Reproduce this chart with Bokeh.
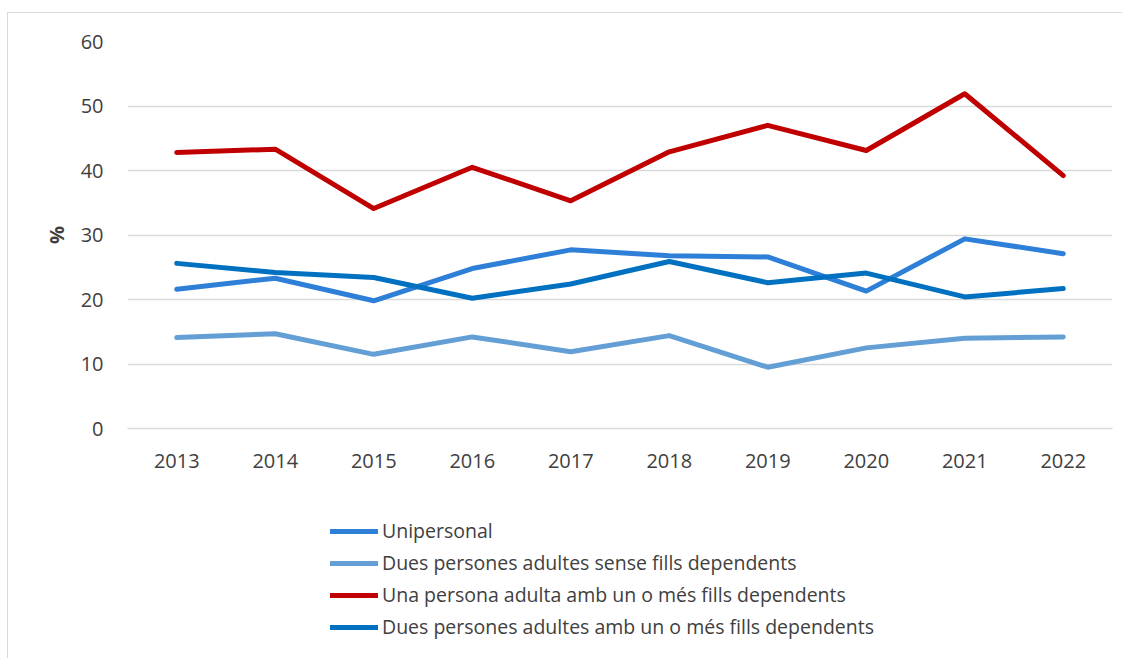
from bokeh.plotting import figure
from bokeh.models import Legend, LegendItem, FixedTicker
from bokeh.layouts import column
from bokeh.embed import file_html
from bokeh.resources import INLINE

years = [2013, 2014, 2015, 2016, 2017, 2018, 2019, 2020, 2021, 2022]
unipersonal = [21.6, 23.3, 19.8, 24.8, 27.7, 26.8, 26.6, 21.3, 29.4, 27.1]
dues_sense = [14.1, 14.7, 11.5, 14.2, 11.9, 14.4, 9.5, 12.5, 14.0, 14.2]
una_amb = [42.8, 43.3, 34.1, 40.5, 35.3, 42.9, 47.0, 43.1, 51.9, 39.2]
dues_amb = [25.6, 24.2, 23.4, 20.2, 22.4, 25.9, 22.6, 24.1, 20.4, 21.7]

series_names = [
    "Unipersonal",
    "Dues persones adultes sense fills dependents",
    "Una persona adulta amb un o més fills dependents",
    "Dues persones adultes amb un o més fills dependents",
]
series_values = [unipersonal, dues_sense, una_amb, dues_amb]
series_colors = ["#2E7FD8", "#639FD5", "#C00000", "#0070C0"]

FONT = "Open Sans"
W = 1114

p = figure(width=W, height=480, output_backend="svg", toolbar_location=None,
           x_range=(2012.5, 2022.5), y_range=(0, 60),
           min_border_left=119, min_border_right=10, min_border_top=28, min_border_bottom=65)
p.outline_line_color = None
p.background_fill_color = "white"
p.border_fill_color = "white"

p.xgrid.grid_line_color = None
p.ygrid.grid_line_color = "#D9D9D9"
p.ygrid.grid_line_width = 1.3
p.yaxis.ticker = FixedTicker(ticks=[0, 10, 20, 30, 40, 50, 60])
p.xaxis.ticker = FixedTicker(ticks=years)

for ax in (p.xaxis[0], p.yaxis[0]):
    ax.major_tick_line_color = None
    ax.minor_tick_line_color = None
    ax.major_label_text_font = FONT
    ax.major_label_text_font_size = "20px"
    ax.major_label_text_color = "#404040"
p.yaxis.axis_line_color = None
p.xaxis.axis_line_color = "#D9D9D9"
p.xaxis.axis_line_width = 1.3
p.yaxis.major_label_standoff = 18
p.xaxis.major_label_standoff = 19

p.yaxis.axis_label = "%"
p.yaxis.axis_label_text_font = FONT
p.yaxis.axis_label_text_font_size = "20px"
p.yaxis.axis_label_text_font_style = "bold"
p.yaxis.axis_label_text_color = "#404040"
p.yaxis.axis_label_standoff = 8

for name, vals, col in zip(series_names, series_values, series_colors):
    p.line(years, vals, line_color=col, line_width=5, line_cap="round", line_join="round")

# legend panel below the chart
lg = figure(width=W, height=165, output_backend="svg", toolbar_location=None,
            x_range=(0, 1), y_range=(0, 1),
            min_border_left=0, min_border_right=0, min_border_top=0, min_border_bottom=0)
lg.axis.visible = False
lg.grid.visible = False
lg.outline_line_color = None
lg.border_fill_color = "white"

items = []
for name, vals, col in zip(series_names, series_values, series_colors):
    r = lg.line(years, vals, line_color=col, line_width=5, line_cap="round")
    items.append(LegendItem(label=name, renderers=[r]))

legend = Legend(items=items, location=(203, 18), orientation="vertical",
                glyph_width=48, glyph_height=20, label_height=20, spacing=5,
                label_standoff=4, padding=0, margin=0,
                border_line_color=None, background_fill_alpha=0,
                label_text_font=FONT, label_text_font_size="19.5px",
                label_text_color="#404040")
lg.add_layout(legend, "center")

layout = column(p, lg, spacing=0)
layout.margin = (12, 0, 0, 7)
layout.styles = {"border-left": "1px solid #D9D9D9", "border-top": "1px solid #D9D9D9"}

open("out.html", "w").write(file_html(layout, INLINE))
